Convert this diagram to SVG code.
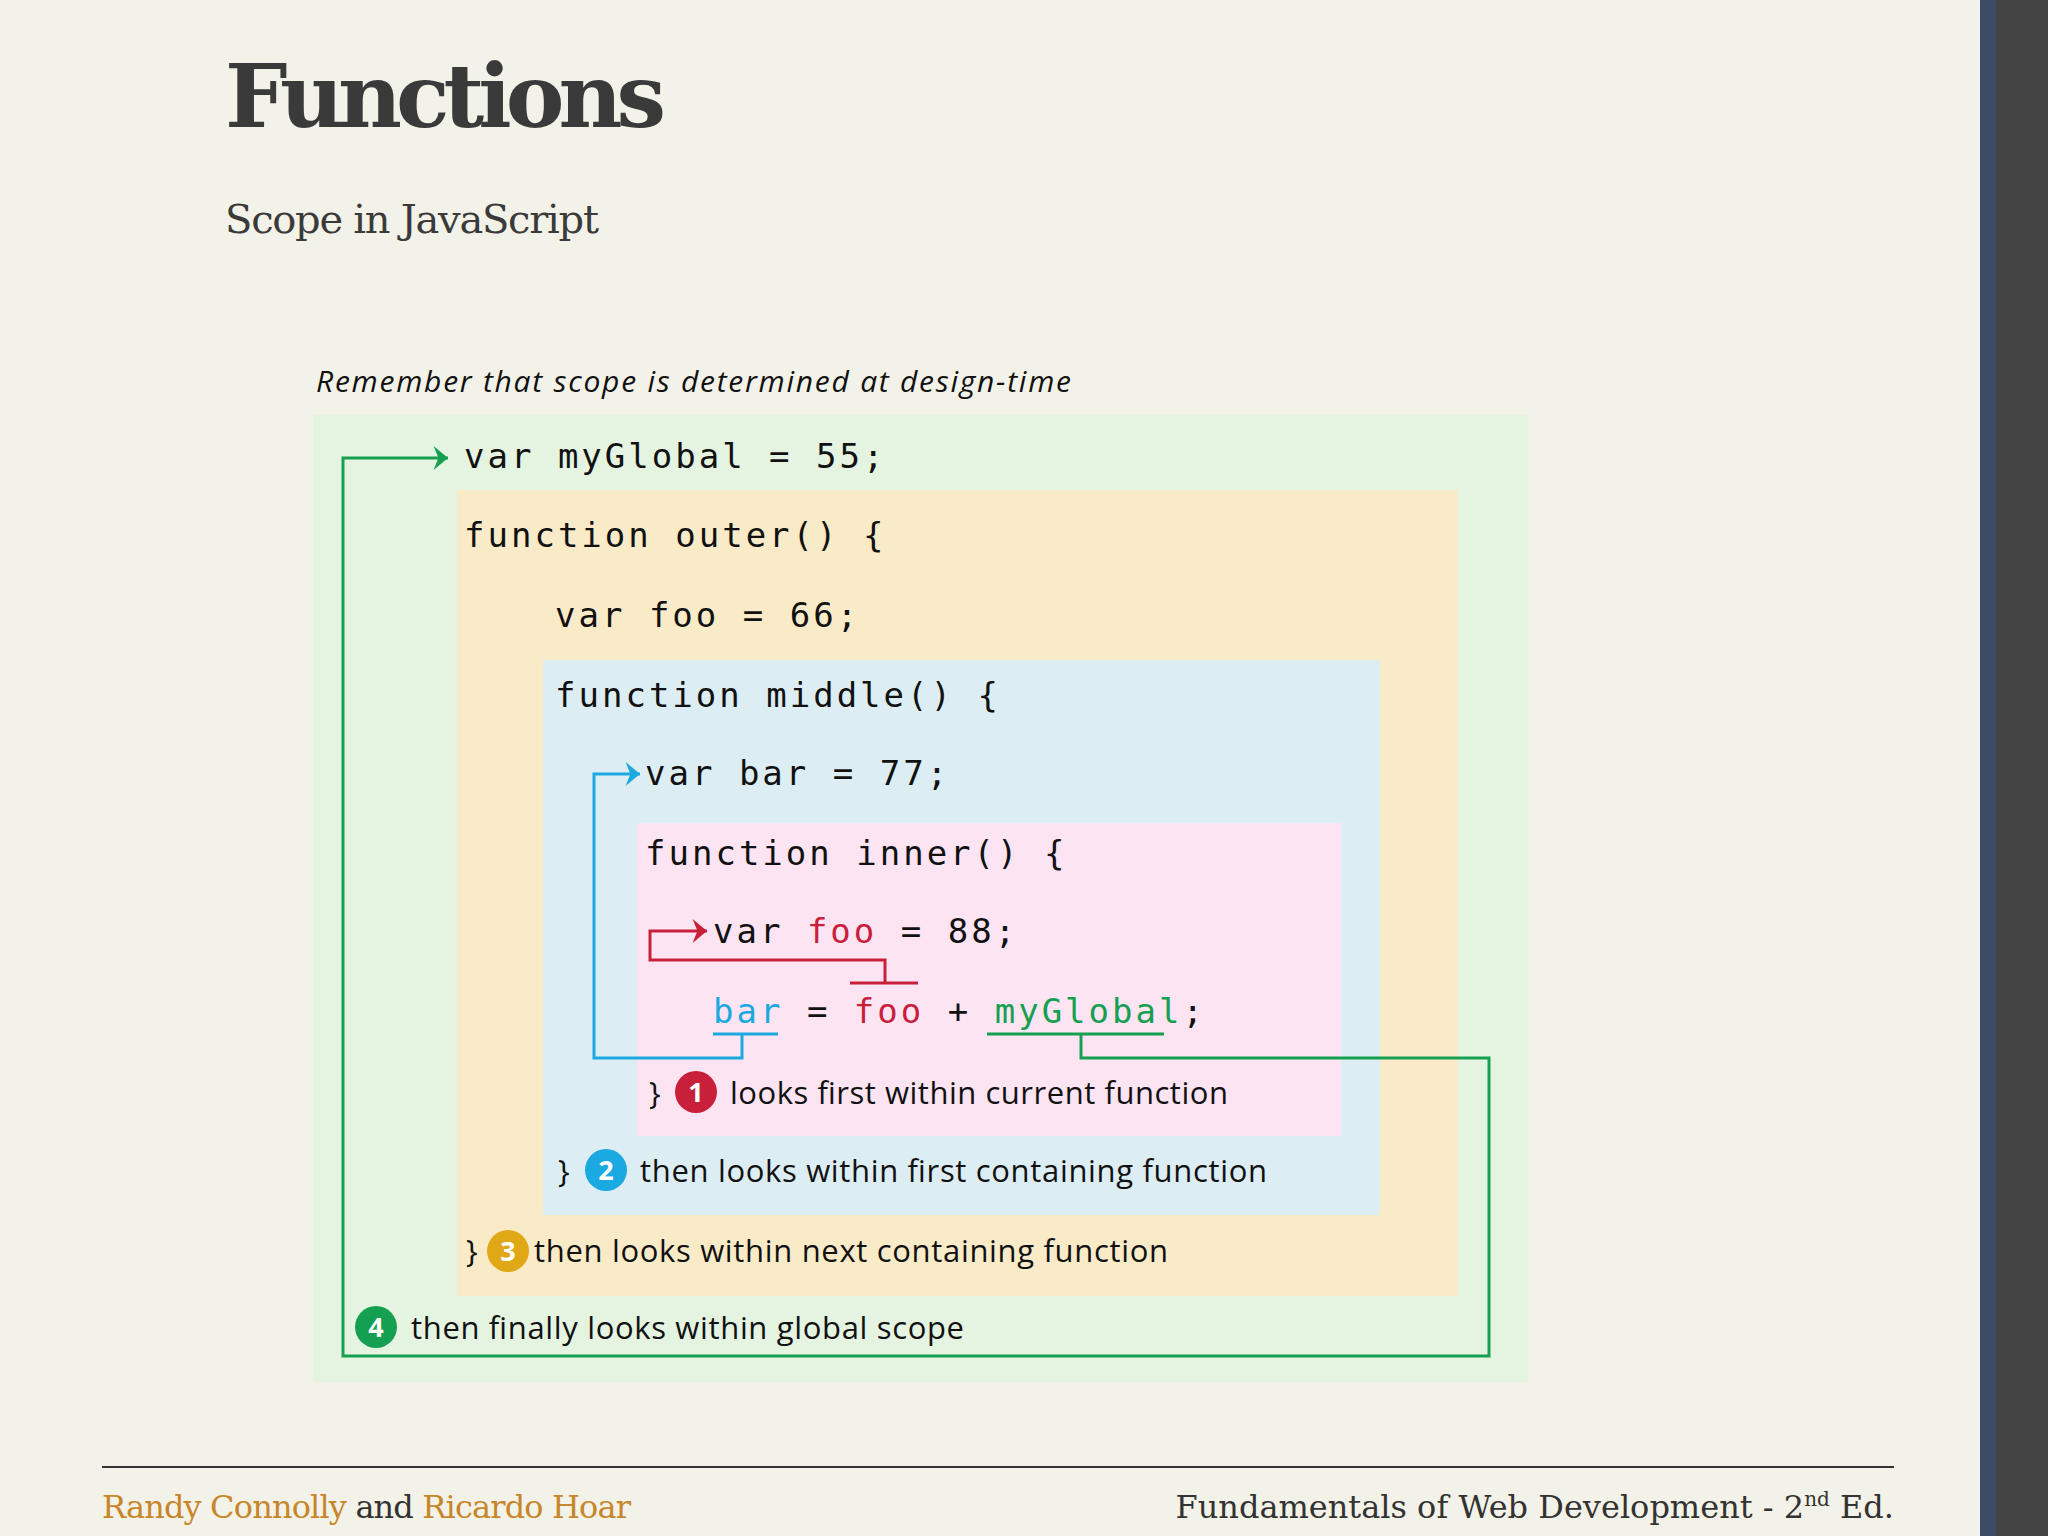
<svg xmlns="http://www.w3.org/2000/svg" width="2048" height="1536" viewBox="0 0 2048 1536">
<style>
.code{font-family:"DejaVu Sans Mono","Liberation Mono",monospace;font-size:34px;fill:#111;letter-spacing:3px}
.note{font-family:"Open Sans","Noto Sans",sans-serif;font-size:31px;fill:#111}
.num{font-family:"Open Sans","Noto Sans",sans-serif;font-size:27px;font-weight:bold;fill:#fff;text-anchor:middle}
.ser{font-family:"DejaVu Serif","Liberation Serif",serif}
.r{fill:#c8203a}.b{fill:#1ba9e1}.g{fill:#14a050}
.ln{fill:none;stroke-width:3}
</style>
<defs>
<marker id="ag" viewBox="0 0 10 10" refX="9" refY="5" markerWidth="8" markerHeight="8" markerUnits="userSpaceOnUse" orient="auto" style="overflow:visible"><path d="M-18,-10 L0,5 L-18,20 L-12,5 Z" transform="translate(9,0)" fill="#14a050"/></marker>
<marker id="ab" viewBox="0 0 10 10" refX="9" refY="5" markerWidth="8" markerHeight="8" markerUnits="userSpaceOnUse" orient="auto" style="overflow:visible"><path d="M-18,-10 L0,5 L-18,20 L-12,5 Z" transform="translate(9,0)" fill="#1ba9e1"/></marker>
<marker id="ar" viewBox="0 0 10 10" refX="9" refY="5" markerWidth="8" markerHeight="8" markerUnits="userSpaceOnUse" orient="auto" style="overflow:visible"><path d="M-18,-10 L0,5 L-18,20 L-12,5 Z" transform="translate(9,0)" fill="#c8203a"/></marker>
</defs>
<rect width="2048" height="1536" fill="#f3f2e8"/>
<rect x="1980" y="0" width="68" height="1536" fill="#444"/>
<rect x="1980" y="0" width="16" height="1536" fill="#3c4b66"/>
<text x="225" y="127" class="ser" font-size="88" font-weight="bold" fill="#3a3a3a" textLength="441">Functions</text>
<text x="225" y="233" class="ser" font-size="40" fill="#3a3a3a" textLength="374">Scope in JavaScript</text>
<text x="316" y="392" font-family="Open Sans,Noto Sans,sans-serif" font-style="italic" font-size="30" fill="#111" textLength="755">Remember that scope is determined at design-time</text>
<g id="global"><rect x="313" y="415" width="1215" height="967" fill="#e4f4e1"/></g>
<g id="outer"><rect x="457" y="490" width="1001" height="806" fill="#faebc8"/></g>
<g id="middle"><rect x="543" y="660" width="837" height="555" fill="#dcedf3"/></g>
<g id="inner"><rect x="637" y="823" width="704" height="313" fill="#fce4f3"/></g>
<g id="code">
<text class="code" x="464" y="468">var myGlobal = 55;</text>
<text class="code" x="464" y="547">function outer() {</text>
<text class="code" x="555" y="627">var foo = 66;</text>
<text class="code" x="555" y="707">function middle() {</text>
<text class="code" x="645" y="785">var bar = 77;</text>
<text class="code" x="645" y="865">function inner() {</text>
<text class="code" x="713" y="943">var <tspan class="r">foo</tspan> = 88;</text>
<text class="code" x="713" y="1023"><tspan class="b">bar</tspan> = <tspan class="r">foo</tspan> + <tspan class="g">myGlobal</tspan>;</text>
</g>
<g id="step1"><text class="note" x="649" y="1104">}</text><circle cx="696" cy="1092" r="21" fill="#c8203a"/><text class="num" x="696" y="1102">1</text><text class="note" x="730" y="1104" textLength="498">looks first within current function</text></g>
<g id="step2"><text class="note" x="558" y="1182">}</text><circle cx="606" cy="1170" r="21" fill="#1ba9e1"/><text class="num" x="606" y="1180">2</text><text class="note" x="640" y="1182" textLength="627">then looks within first containing function</text></g>
<g id="step3"><text class="note" x="466" y="1262">}</text><circle cx="508" cy="1251" r="21" fill="#e0a817"/><text class="num" x="508" y="1261">3</text><text class="note" x="534" y="1262" textLength="634">then looks within next containing function</text></g>
<g id="step4"><circle cx="376" cy="1327" r="21" fill="#14a050"/><text class="num" x="376" y="1337">4</text><text class="note" x="411" y="1339" textLength="553">then finally looks within global scope</text></g>
<g id="connectors">
<path class="ln" stroke="#14a050" d="M987,1034 H1164 M1081,1034 V1058 H1489 V1356 H343 V458 H448" marker-end="url(#ag)"/>
<path class="ln" stroke="#1ba9e1" d="M713,1034 H778 M742,1034 V1058 H594 V774 H640" marker-end="url(#ab)"/>
<path class="ln" stroke="#c8203a" d="M850,983 H918 M885,983 V960 H650 V931 H707" marker-end="url(#ar)"/>
</g>
<line x1="102" y1="1467" x2="1894" y2="1467" stroke="#333" stroke-width="2"/>
<text x="102" y="1518" class="ser" font-size="32" fill="#333" textLength="529"><tspan fill="#c8862a">Randy Connolly</tspan> and <tspan fill="#c8862a">Ricardo Hoar</tspan></text>
<text x="1894" y="1518" class="ser" font-size="32" fill="#333" text-anchor="end">Fundamentals of Web Development - 2<tspan font-size="20" dy="-12">nd</tspan><tspan dy="12"> Ed.</tspan></text>
</svg>
